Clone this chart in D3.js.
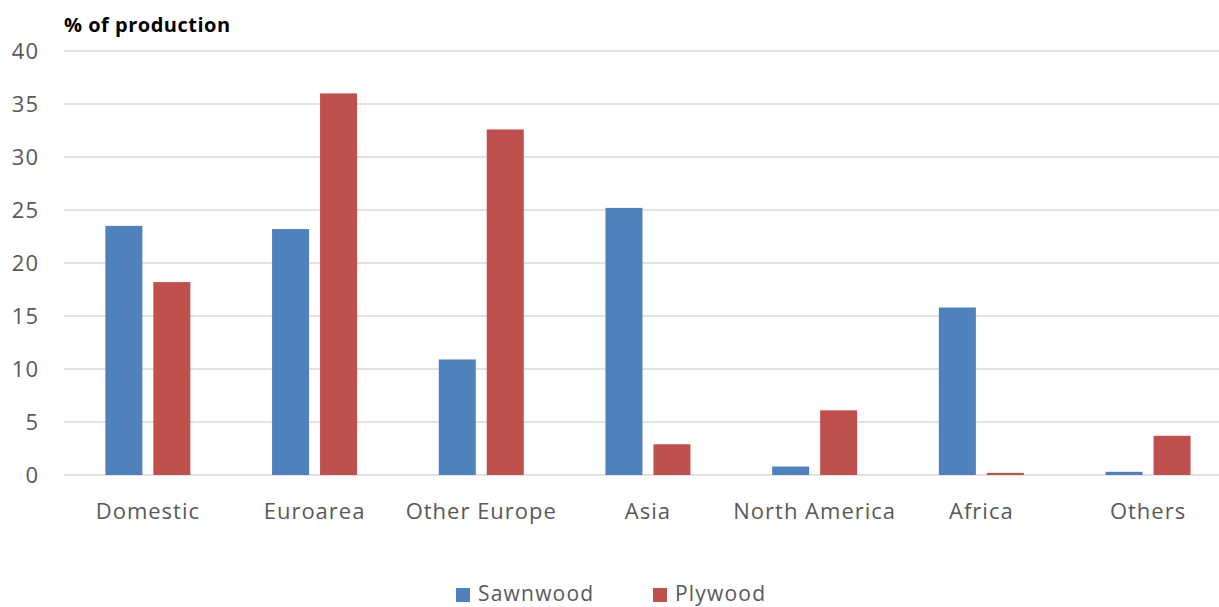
<!DOCTYPE html>
<html><head><meta charset="utf-8">
<script src="https://cdn.jsdelivr.net/npm/d3@7"></script>
<style>
body{margin:0;background:#fff;}
svg{display:block;}
text{font-family:"Open Sans",sans-serif;}
</style></head>
<body>
<svg id="c" width="1219" height="607"></svg>
<script>
const categories = ["Domestic","Euroarea","Other Europe","Asia","North America","Africa","Others"];
const sawnwood = [23.5, 23.2, 10.9, 25.2, 0.8, 15.8, 0.3];
const plywood  = [18.2, 36.0, 32.6, 2.9, 6.1, 0.2, 3.7];
const seriesNames = ["Sawnwood","Plywood"];
const colors = ["#4F81BD","#C0504D"];
const yTicks = [0,5,10,15,20,25,30,35,40];

const svg = d3.select("#c");
const m = {l:64.5, r:1231.4, t:51, b:475};
const x = d3.scaleBand().domain(categories).range([m.l, m.r]).paddingInner(0).paddingOuter(0);
const y = d3.scaleLinear().domain([0,40]).range([m.b, m.t]);
const x1 = d3.scaleBand().domain(seriesNames).range([0, x.bandwidth()]).paddingInner(0.229).paddingOuter(0.851);

// grid
svg.append("g").selectAll("line").data(yTicks).join("line")
  .attr("x1", 64).attr("x2", 1219)
  .attr("y1", d=>y(d)).attr("y2", d=>y(d))
  .attr("stroke","#d9d9d9").attr("stroke-width",1.5);

// y axis labels
const yAxis = d3.axisLeft(y).tickValues(yTicks).tickSize(0).tickPadding(0);
const ya = svg.append("g").attr("transform",`translate(39,0)`).call(yAxis);
ya.select(".domain").remove();
ya.selectAll("text").attr("font-size",22).attr("letter-spacing","1px").attr("fill","#595959").attr("font-family","Open Sans, sans-serif").attr("dy","0.35em");

// bars
const data = categories.map((c,i)=>({c, vals:[sawnwood[i], plywood[i]]}));
const g = svg.append("g");
data.forEach(d=>{
  seriesNames.forEach((s,j)=>{
    g.append("rect")
      .attr("x", x(d.c)+x1(s))
      .attr("width", x1.bandwidth())
      .attr("y", y(d.vals[j]))
      .attr("height", y(0)-y(d.vals[j]))
      .attr("fill", colors[j]);
  });
});

// x axis labels
const xAxis = d3.axisBottom(x).tickSize(0).tickPadding(0);
const xa = svg.append("g").attr("transform",`translate(0,${m.b+36})`).call(xAxis);
xa.select(".domain").remove();
xa.selectAll("text").attr("font-size",22).attr("letter-spacing","1px").attr("fill","#595959").attr("font-family","Open Sans, sans-serif").attr("dy","0.35em");

// title
svg.append("text").attr("x",64).attr("y",32).attr("font-size",20).attr("font-weight","bold")
  .attr("letter-spacing","0.5px").attr("fill","#000").text("% of production");

// legend
const leg = svg.append("g");
const legX = [456, 653];
seriesNames.forEach((s,j)=>{
  leg.append("rect").attr("x",legX[j]).attr("y",588).attr("width",14).attr("height",14).attr("fill",colors[j]);
  leg.append("text").attr("x",legX[j]+22).attr("y",594).attr("dy","0.35em").attr("font-size",21)
    .attr("letter-spacing","1.2px").attr("fill","#595959").text(s);
});
</script>
</body></html>
